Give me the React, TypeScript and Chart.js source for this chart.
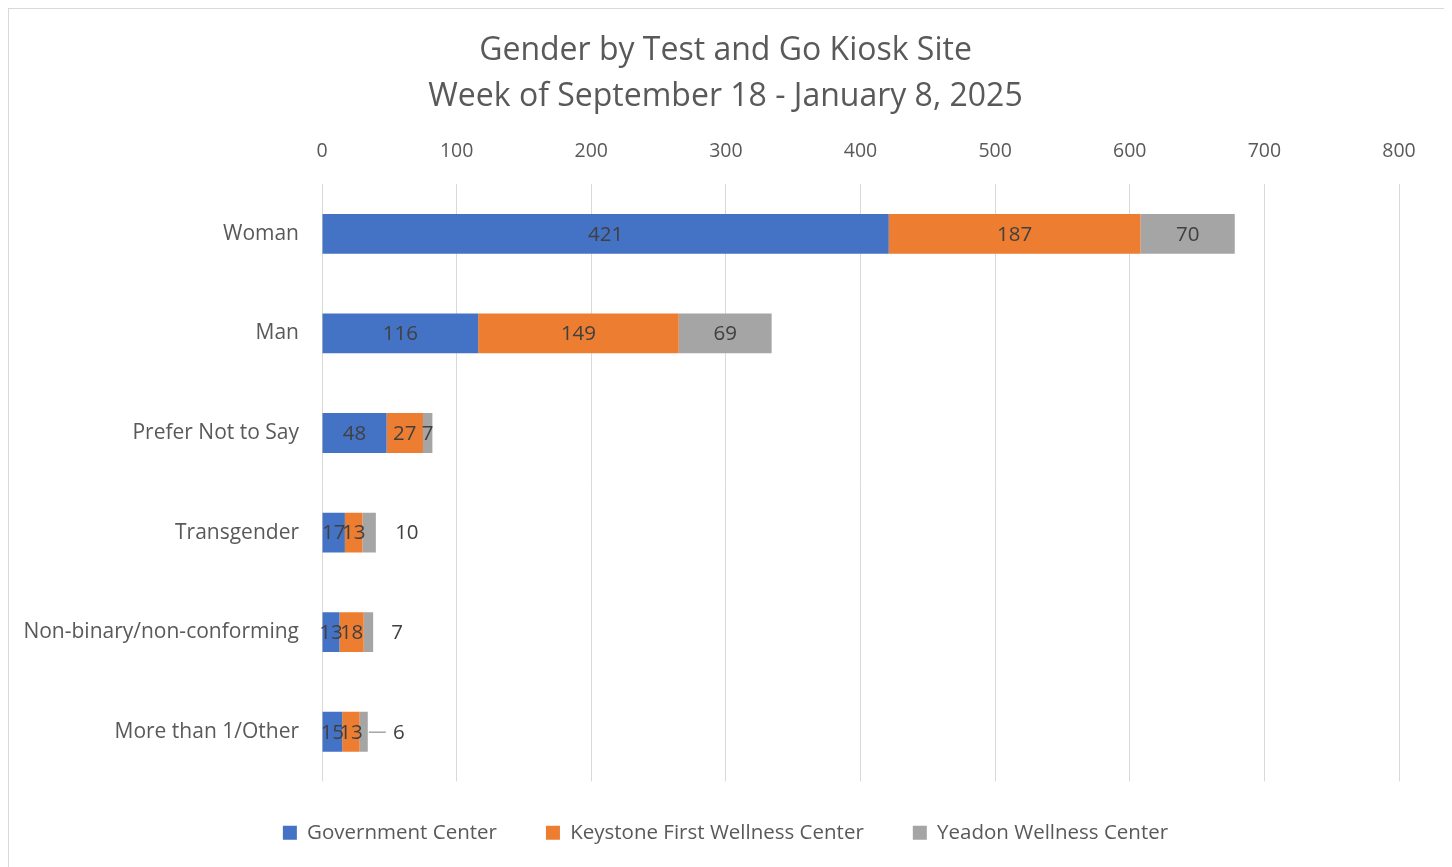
import React, { useEffect, useRef } from "react";
import { Chart, registerables } from "chart.js";

Chart.register(...registerables);

const categories = ["Woman", "Man", "Prefer Not to Say", "Transgender", "Non-binary/non-conforming", "More than 1/Other"];
const governmentCenter = [421, 116, 48, 17, 13, 15];
const keystoneFirst = [187, 149, 27, 13, 18, 13];
const yeadon = [70, 69, 7, 10, 7, 6];
const seriesNames = ["Government Center", "Keystone First Wellness Center", "Yeadon Wellness Center"];
const xTicks = [0, 100, 200, 300, 400, 500, 600, 700, 800];
const titleLines = ["Gender by Test and Go Kiosk Site", "Week of September 18 - January 8, 2025"];

const FONT = "'Open Sans', Lato, sans-serif";
const TEXT = "#595959";

// label placement overrides for the third series (px beyond bar end)
const outsideLabels: Record<number, { dx: number; leader: boolean }> = {
  3: { dx: 31, leader: false },
  4: { dx: 24, leader: false },
  5: { dx: 31, leader: true },
};

const dataLabelPlugin = {
  id: "dataLabels",
  afterDatasetsDraw(chart: any) {
    const ctx = chart.ctx;
    ctx.save();
    ctx.font = `20.5px ${FONT}`;
    ctx.fillStyle = "#404040";
    ctx.textAlign = "center";
    ctx.textBaseline = "middle";
    chart.data.datasets.forEach((ds: any, di: number) => {
      const meta = chart.getDatasetMeta(di);
      meta.data.forEach((el: any, i: number) => {
        const v = ds.data[i];
        const start = Math.min(el.x, el.base);
        const end = Math.max(el.x, el.base);
        let cx = (start + end) / 2;
        if (di === 2 && outsideLabels[i]) {
          const o = outsideLabels[i];
          cx = end + o.dx;
          if (o.leader) {
            ctx.save();
            ctx.strokeStyle = "#a5a5a5";
            ctx.lineWidth = 1.5;
            ctx.beginPath();
            ctx.moveTo(end + 1, el.y + 0.5);
            ctx.lineTo(cx - 13, el.y + 0.5);
            ctx.stroke();
            ctx.restore();
          }
        }
        ctx.fillText(String(v), cx, el.y + 1);
      });
    });
    ctx.restore();
  },
};

// shift legend up a little and center title/legend on the full chart frame
const blockShiftPlugin = {
  id: "blockShift",
  afterLayout(chart: any) {
    if (chart.legend) {
      chart.legend.top -= 8;
      chart.legend.bottom -= 8;
      chart.legend.left += 43;
    }
    if (chart.titleBlock) {
      chart.titleBlock.left += 43;
    }
  },
};

export default function App() {
  const ref = useRef<HTMLCanvasElement | null>(null);
  useEffect(() => {
    if (!ref.current) return;
    const chart = new Chart(ref.current, {
      type: "bar",
      data: {
        labels: categories,
        datasets: [
          { label: seriesNames[0], data: governmentCenter, backgroundColor: "#4472C4" },
          { label: seriesNames[1], data: keystoneFirst, backgroundColor: "#ED7D31" },
          { label: seriesNames[2], data: yeadon, backgroundColor: "#A5A5A5" },
        ],
      },
      options: {
        indexAxis: "y",
        animation: false,
        responsive: true,
        maintainAspectRatio: false,
        datasets: { bar: { barPercentage: 0.4, categoryPercentage: 1 } },
        layout: { padding: { left: 0, right: 49, top: 0, bottom: 8 } },
        scales: {
          x: {
            position: "top",
            stacked: true,
            min: 0,
            max: 800,
            afterBuildTicks: (scale: any) => {
              scale.ticks = xTicks.map((v) => ({ value: v }));
            },
            afterFit: (scale: any) => {
              scale.height = 64;
            },
            grid: { color: "#d9d9d9", lineWidth: 1, drawTicks: false },
            border: { display: false },
            ticks: { color: TEXT, font: { family: FONT, size: 19.5 }, padding: 21, maxRotation: 0 },
          },
          y: {
            stacked: true,
            afterFit: (scale: any) => {
              scale.width = 313;
            },
            grid: { display: false, drawTicks: false },
            border: { display: false },
            ticks: { color: TEXT, font: { family: FONT, size: 21 }, padding: 23 },
          },
        },
        plugins: {
          title: {
            display: true,
            text: titleLines,
            color: TEXT,
            font: { family: FONT, size: 32, weight: "normal", lineHeight: 46 / 32 },
            padding: { top: 19, bottom: 0 },
          },
          legend: {
            display: true,
            position: "bottom",
            labels: {
              color: TEXT,
              font: { family: FONT, size: 20.5 },
              boxWidth: 14,
              boxHeight: 14,
              padding: 49,
            },
          },
          tooltip: { enabled: false },
        },
      },
      plugins: [dataLabelPlugin, blockShiftPlugin],
    });
    return () => chart.destroy();
  }, []);
  return (
    <div
      style={{
        position: "relative",
        width: 1441,
        height: 862,
        boxSizing: "border-box",
        border: "1px solid #d9d9d9",
        background: "#fff",
      }}
    >
      <canvas ref={ref} />
    </div>
  );
}
